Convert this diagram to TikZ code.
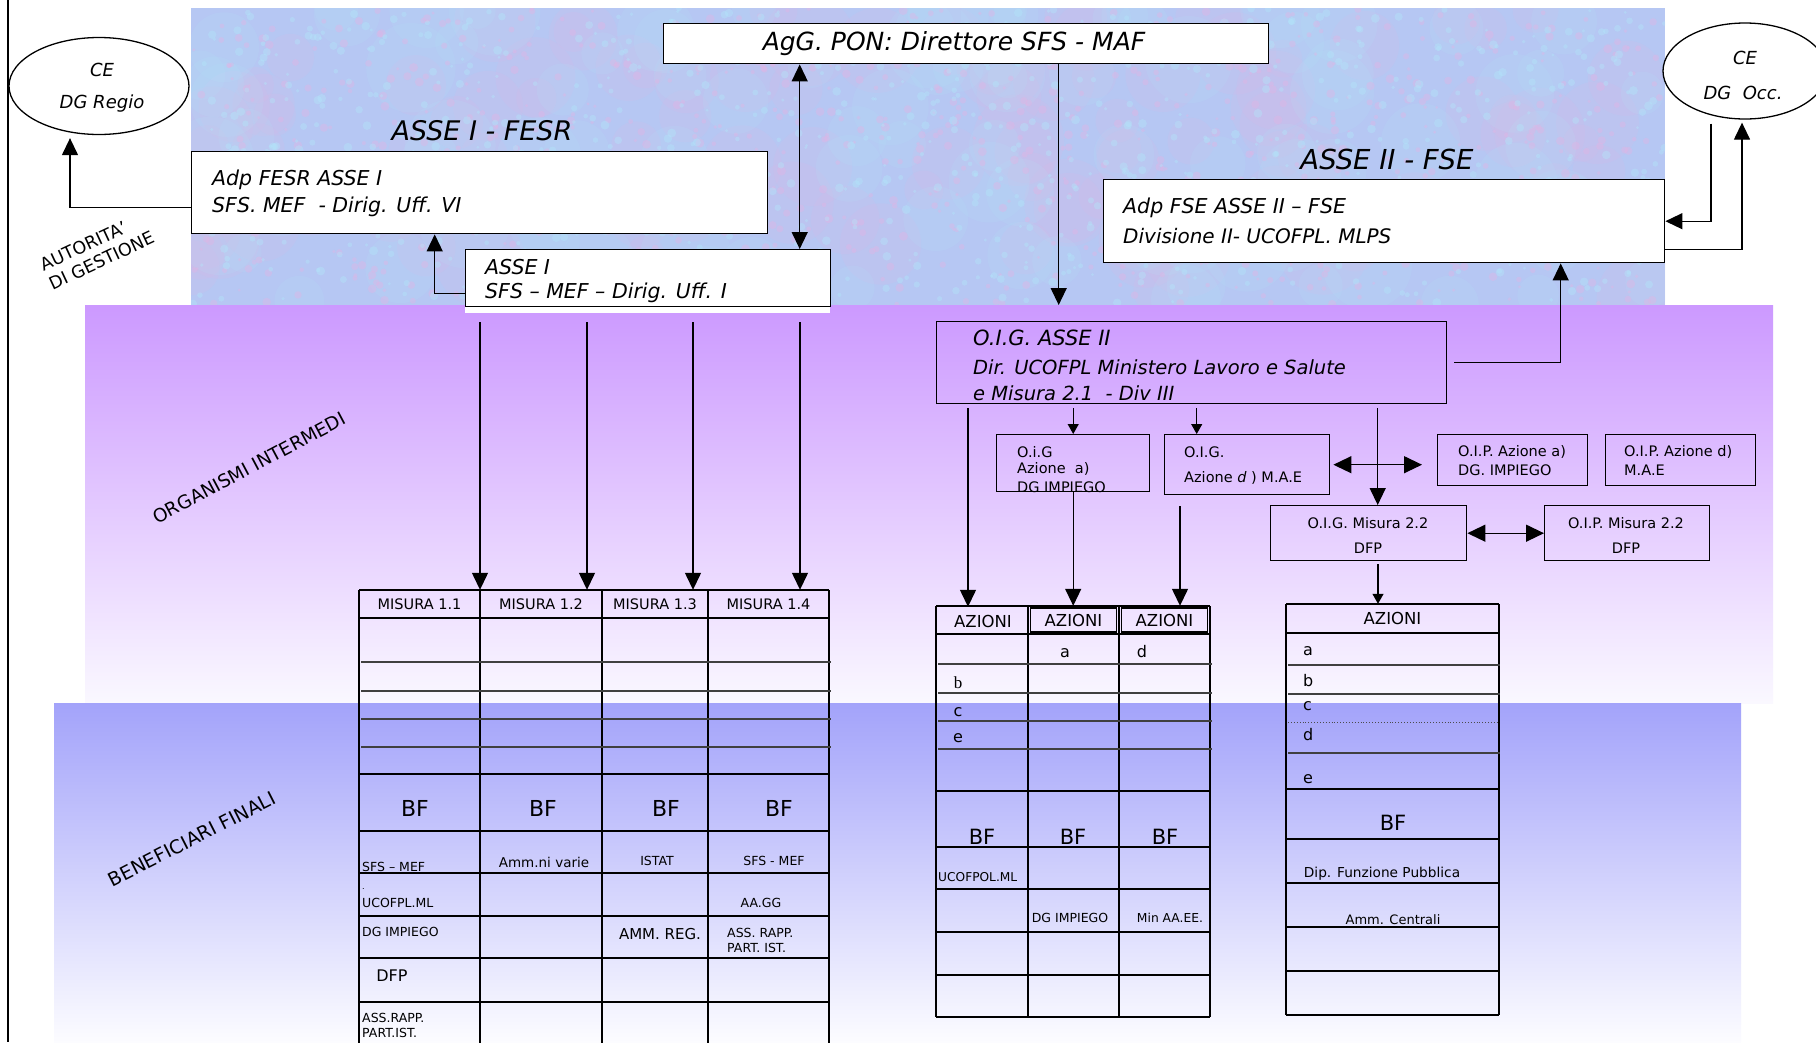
\documentclass[tikz,border=0pt]{standalone}
\usepackage{fontspec}
\setmainfont{DejaVu Sans}
\newfontfamily\serifb{Liberation Serif}
\usetikzlibrary{arrows.meta,calc,shapes.geometric}
\definecolor{purp}{RGB}{204,153,255}
\definecolor{purpend}{RGB}{250,248,255}
\definecolor{bluf}{RGB}{163,163,250}
\definecolor{bluend}{RGB}{252,252,255}
\definecolor{skyb}{RGB}{182,199,243}
\definecolor{pinkb}{RGB}{226,180,228}
\definecolor{cyanb}{RGB}{178,230,250}
\newcommand\myfs[2]{\fontsize{#1}{#2}\selectfont}
\begin{document}
\begin{tikzpicture}[x=1pt,y=-1pt,
  bx/.style={draw,line width=1.4pt,inner sep=0pt,anchor=north west},
  wbx/.style={bx,fill=white},
  ell/.style={draw,ellipse,fill=white,line width=1.3pt,inner sep=0pt},
  itx/.style={inner sep=0pt,font=\itshape\myfs{#1}{#1}},
  upx/.style={inner sep=0pt,font=\myfs{#1}{#1}},
  hdr/.style={inner sep=0pt,font=\myfs{14.5}{14.5}},
  hdra/.style={inner sep=0pt,font=\myfs{16.5}{16.5}},
  grid/.style={line width=1.4pt},
  tl/.style={line width=1.1pt,black!75},
  arr/.style={line width=1.3pt,-{Triangle[length=17pt,width=16pt]}},
  darr/.style={line width=1.3pt,{Triangle[length=17pt,width=16pt]}-{Triangle[length=17pt,width=16pt]}},
  darrh/.style={line width=1.3pt,{Triangle[length=18pt,width=17pt]}-{Triangle[length=18pt,width=17pt]}},
  sarr/.style={line width=1.1pt,-{Triangle[length=10pt,width=11pt]}}
]
\useasboundingbox (0,0) rectangle (1816,1042);
\fill[white] (0,0) rectangle (1816,1042);
% ---------- backgrounds ----------
\fill[skyb] (191,8) rectangle (1665,305);
\begin{scope}
  \clip (191,8) rectangle (1665,305);
  \pgfmathsetseed{11}
  \foreach \i in {1,...,110}{
    \pgfmathsetmacro\xx{191+1474*rnd}
    \pgfmathsetmacro\yy{8+297*rnd}
    \pgfmathsetmacro\rr{18+28*rnd}
    \fill[pinkb,opacity=0.14] (\xx,\yy) circle[radius=\rr pt];
  }
  \foreach \i in {1,...,110}{
    \pgfmathsetmacro\xx{191+1474*rnd}
    \pgfmathsetmacro\yy{8+297*rnd}
    \pgfmathsetmacro\rr{18+28*rnd}
    \fill[cyanb,opacity=0.14] (\xx,\yy) circle[radius=\rr pt];
  }
  \foreach \i in {1,...,900}{
    \pgfmathsetmacro\xx{191+1474*rnd}
    \pgfmathsetmacro\yy{8+297*rnd}
    \pgfmathsetmacro\rr{1.5+3*rnd}
    \fill[pinkb,opacity=0.4] (\xx,\yy) circle[radius=\rr pt];
  }
  \foreach \i in {1,...,900}{
    \pgfmathsetmacro\xx{191+1474*rnd}
    \pgfmathsetmacro\yy{8+297*rnd}
    \pgfmathsetmacro\rr{1.5+3*rnd}
    \fill[cyanb,opacity=0.4] (\xx,\yy) circle[radius=\rr pt];
  }
\end{scope}
\shade[top color=purp,bottom color=purpend] (85,305) rectangle (1773,703);
\shade[top color=bluf,bottom color=bluend] (54,703) rectangle (1741,1042);
\fill[white] (465,300) rectangle (830,313);
\draw[line width=2.2pt] (8,0) -- (8,1042);

% ---------- side labels ----------
\node[rotate=25,align=left,inner sep=0pt,font=\myfs{17.5}{21}] (lblag) at (97,251) {AUTORITA'\\DI GESTIONE};
\node[upx=18.5,rotate=28] (lblorg) at (249,468) {ORGANISMI INTERMEDI};
\node[upx=19,rotate=27] (lblben) at (192,839) {BENEFICIARI FINALI};

% ---------- top boxes ----------
\node[wbx,minimum width=605pt,minimum height=40pt] (agg) at (663,23) {};
\node[itx=25] (aggt) at (954,44) {AgG. PON: Direttore SFS - MAF};

\node[ell,minimum width=180pt,minimum height=97pt] (ceregio) at (99,86) {};
\node[itx=18] (ceregio1) at (102,70) {CE};
\node[itx=18] (ceregio2) at (102,104) {DG Regio};

\node[ell,minimum width=164pt,minimum height=96pt] (ceocc) at (1745,71) {};
\node[itx=18] (ceocc1) at (1745,58) {CE};
\node[itx=18] (ceocc2) at (1743,93) {DG\ \ Occ.};

\node[itx=27] (lblfesr) at (482,131) {ASSE I - FESR};
\node[itx=27.5] (lblfse) at (1387,159) {ASSE II - FSE};

\node[wbx,minimum width=576pt,minimum height=82pt] (adpfesr) at (191,151) {};
\node[itx=20.5,anchor=west] (adpfesr1) at (212,180) {Adp FESR ASSE I};
\node[itx=20.5,anchor=west] (adpfesr2) at (212,207) {SFS. MEF\ \ - Dirig. Uff. VI};

\node[wbx,minimum width=365pt,minimum height=57pt] (asse1) at (465,249) {};
\node[itx=20.5,anchor=west] (asse1a) at (485,267) {ASSE I};
\node[itx=20.5,anchor=west] (asse1b) at (485,293) {SFS – MEF – Dirig. Uff. I};

\node[wbx,minimum width=561pt,minimum height=83pt] (adpfse) at (1103,179) {};
\node[itx=20.5,anchor=west] (adpfse1) at (1123,208) {Adp FSE ASSE II – FSE};
\node[itx=20,anchor=west] (adpfse2) at (1123,236) {Divisione II- UCOFPL. MLPS};

% ---------- intermediate bodies ----------
\node[bx,minimum width=510pt,minimum height=82pt] (oig) at (936,321) {};
\node[itx=21,anchor=west] (oig1) at (973,338) {O.I.G. ASSE II};
\node[itx=19.5,anchor=west] (oig2) at (973,367) {Dir. UCOFPL Ministero Lavoro e Salute};
\node[itx=19.5,anchor=west] (oig3) at (973,393) {e Misura 2.1\ \ - Div III};

\node[bx,minimum width=153pt,minimum height=57pt] (oiga) at (996,434) {};
\node[upx=14.5,anchor=west] (oiga1) at (1017,452) {O.i.G};
\node[upx=14.5,anchor=west] (oiga2) at (1017,469) {Azione\ \ a)};
\node[upx=14.5,anchor=west] (oiga3) at (1017,487) {DG IMPIEGO};

\node[bx,minimum width=165pt,minimum height=60pt] (oigd) at (1164,434) {};
\node[upx=14.5,anchor=west] (oigd1) at (1184,452) {O.I.G.};
\node[upx=14.5,anchor=west] (oigd2) at (1184,478) {Azione \textit{d} ) M.A.E};

\node[bx,minimum width=150pt,minimum height=51pt] (oipa) at (1437,434) {};
\node[upx=14.5,anchor=west] (oipa1) at (1458,452) {O.I.P. Azione a)};
\node[upx=14.5,anchor=west] (oipa2) at (1458,470) {DG. IMPIEGO};

\node[bx,minimum width=150pt,minimum height=51pt] (oipd) at (1605,434) {};
\node[upx=14.5,anchor=west] (oipd1) at (1624,452) {O.I.P. Azione d)};
\node[upx=14.5,anchor=west] (oipd2) at (1624,470) {M.A.E};

\node[bx,minimum width=196pt,minimum height=55pt] (oigm) at (1270,505) {};
\node[upx=14.5] (oigm1) at (1368,523) {O.I.G. Misura 2.2};
\node[upx=14.5] (oigm2) at (1368,548) {DFP};

\node[bx,minimum width=165pt,minimum height=55pt] (oipm) at (1544,505) {};
\node[upx=14.5] (oipm1) at (1626,523) {O.I.P. Misura 2.2};
\node[upx=14.5] (oipm2) at (1626,548) {DFP};

% ---------- MISURA table ----------
\foreach \x in {359,480,602,708,829} \draw[grid] (\x,590) -- (\x,1045);
\foreach \y in {590,618,774,831,873,916,958,1002} \draw[grid] (359,\y) -- (829,\y);
\foreach \y in {662,691,719,747} \draw[tl] (361,\y) -- (831,\y);
\node[hdr,minimum width=121pt,minimum height=28pt] (mis1) at (419.5,604) {MISURA 1.1};
\node[hdr,minimum width=122pt,minimum height=28pt] (mis2) at (541,604) {MISURA 1.2};
\node[hdr,minimum width=106pt,minimum height=28pt] (mis3) at (655,604) {MISURA 1.3};
\node[hdr,minimum width=121pt,minimum height=28pt] (mis4) at (768.5,604) {MISURA 1.4};
\node[upx=22] (bf1) at (415,808) {BF};
\node[upx=22] (bf2) at (543,808) {BF};
\node[upx=22] (bf3) at (666,808) {BF};
\node[upx=22] (bf4) at (779,808) {BF};
\node[upx=12.5,anchor=west] (m11) at (362,867) {SFS – MEF};
\node[upx=13.5] (m12) at (544,862) {Amm.ni varie};
\node[upx=12.5] (m13) at (657,861) {ISTAT};
\node[upx=12.5] (m14) at (774,861) {SFS - MEF};
\node[upx=8,anchor=west] (m21a) at (362,889) {.};
\node[upx=12.5,anchor=west] (m21) at (362,903) {UCOFPL.ML};
\node[upx=12.5] (m24) at (761,903) {AA.GG};
\node[upx=12.5,anchor=west] (m31) at (362,932) {DG IMPIEGO};
\node[upx=15] (m33) at (660,934) {AMM. REG.};
\node[anchor=west,align=left,inner sep=0pt,font=\myfs{12.5}{15}] (m34) at (727,940) {ASS. RAPP.\\PART. IST.};
\node[upx=16] (m41) at (392,976) {DFP};
\node[anchor=west,align=left,inner sep=0pt,font=\myfs{12.5}{15}] (m51) at (362,1025) {ASS.RAPP.\\PART.IST.};

% ---------- AZIONI table (Asse II) ----------
\foreach \x in {936,1028,1119,1210} \draw[grid] (\x,606) -- (\x,1017);
\foreach \y in {606,634,791,847,889,932,975,1017} \draw[grid] (936,\y) -- (1210,\y);
\foreach \y in {664,693,721,749} \draw[tl] (938,\y) -- (1212,\y);
\draw[line width=1.2pt] (1030.5,608) rectangle (1116.5,632);
\draw[line width=1.2pt] (1121.5,608) rectangle (1207.5,632);
\node[hdra,minimum width=92pt,minimum height=28pt] (az1) at (983,621) {AZIONI};
\node[hdra,minimum width=91pt,minimum height=28pt] (az2) at (1073.5,620) {AZIONI};
\node[hdra,minimum width=91pt,minimum height=28pt] (az3) at (1164.5,620) {AZIONI};
\node[upx=16] (aza) at (1065,653) {a};
\node[upx=16] (azd) at (1142,652) {d};
\node[inner sep=0pt,font=\serifb\myfs{17}{17}] (azb) at (958,683) {b};
\node[upx=16] (azc) at (958,712) {c};
\node[upx=16] (aze) at (958,738) {e};
\node[upx=21] (azbf1) at (982,837) {BF};
\node[upx=21] (azbf2) at (1073,837) {BF};
\node[upx=21] (azbf3) at (1165,837) {BF};
\node[upx=12.2,anchor=west] (azu) at (938,877) {UCOFPOL.ML};
\node[upx=12.5] (azdg) at (1070,918) {DG IMPIEGO};
\node[upx=12.3] (azmin) at (1170,918) {Min AA.EE.};

% ---------- AZIONI table (Misura 2.2) ----------
\foreach \x in {1286,1499} \draw[grid] (\x,604) -- (\x,1015);
\foreach \y in {604,633,789,839,883,927,971,1015} \draw[grid] (1286,\y) -- (1499,\y);
\foreach \y in {665,694,753} \draw[tl] (1288,\y) -- (1500,\y);
\draw[line width=0.9pt,dotted,black!70] (1288,722) -- (1499,722);
\node[hdra,minimum width=213pt,minimum height=29pt] (azr) at (1392.5,618.5) {AZIONI};
\node[upx=16,anchor=west] (azra) at (1303,651) {a};
\node[upx=16,anchor=west] (azrb) at (1303,681) {b};
\node[upx=16,anchor=west] (azrc) at (1303,706) {c};
\node[upx=16,anchor=west] (azrd) at (1303,735) {d};
\node[upx=16,anchor=west] (azre) at (1303,779) {e};
\node[upx=21] (azrbf) at (1393,823) {BF};
\node[upx=13.7] (azrdip) at (1382,874) {Dip. Funzione Pubblica};
\node[upx=13] (azramm) at (1393,920) {Amm. Centrali};

% ---------- connectors ----------
\draw[arr] ([yshift=-15pt]adpfesr.west) -| ([xshift=-29pt,yshift=-3pt]ceregio.south);
\draw[arr] ([yshift=-15.5pt]asse1.west) -| ([xshift=-45pt]adpfesr.south);
\draw[darr] ([xshift=151.5pt]asse1.north) -- ([xshift=-166.5pt]agg.south);
\draw[arr,shorten >=16pt] ([xshift=92.5pt]agg.south) -- ([xshift=-133pt]oig.north);
\draw[arr,shorten <=7pt] (oig.east) -| ([xshift=176.5pt]adpfse.south);
\draw[arr] ([xshift=-34pt,yshift=-4pt]ceocc.south) |- (adpfse.east);
\draw[arr] ([yshift=-28.5pt]adpfse.east) -| ([xshift=-3pt,yshift=-3pt]ceocc.south);

\draw[sarr,shorten <=4pt] (oig.south -| oiga.north) -- (oiga.north);
\path ([xshift=-50.5pt]oigd.north) coordinate (dtop);
\draw[sarr,shorten <=4pt] (oig.south -| dtop) -- (dtop);
\draw[darrh,shorten <=3pt,shorten >=15pt] (oigd.east) -- (oipa.west |- oigd.east);
\path ([xshift=9pt]oigm.north) coordinate (mtop);
\draw[arr,shorten <=4pt] (oig.south -| mtop) -- (mtop);
\draw[darrh] (oigm.east) -- (oipm.west);

\path ([xshift=-14.5pt]azr.north) coordinate (rtop);
\draw[sarr,shorten <=3pt] (oigm.south -| rtop) -- (rtop);
\path ([xshift=-15pt]az1.north) coordinate (a1top);
\draw[arr,shorten <=4pt] (oig.south -| a1top) -- (a1top);
\draw[arr] (oiga.south) -- (oiga.south |- az2.north);
\path ([xshift=15.5pt]az3.north) coordinate (a3top);
\draw[arr,shorten <=11pt] (oigd.south -| a3top) -- (a3top);

\foreach \k/\s in {1/60.5,2/46,3/38,4/31.5}{
  \path ([xshift=\s pt]mis\k.north) coordinate (mt\k);
  \draw[arr,shorten <=15pt] (asse1.south -| mt\k) -- (mt\k);
}
\end{tikzpicture}
\end{document}
